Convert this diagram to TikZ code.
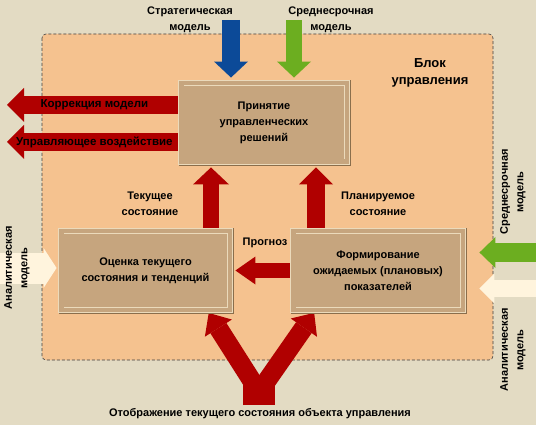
\documentclass[tikz,border=0pt]{standalone}
\usepackage{fontspec}
\setmainfont{Liberation Sans}
\usetikzlibrary{arrows.meta,positioning,backgrounds}
\definecolor{pagebg}{HTML}{E3DBC3}
\definecolor{peach}{HTML}{F5C28F}
\definecolor{boxtan}{HTML}{C6A57E}
\definecolor{boxlight}{HTML}{EBDABB}
\definecolor{boxdark}{HTML}{8A6E4C}
\definecolor{arrred}{HTML}{B00000}
\definecolor{stratblue}{HTML}{0C4A98}
\definecolor{midgreen}{HTML}{6CAE20}
\definecolor{anlcream}{HTML}{FFF4DD}
\newcommand{\lblfont}{\fontsize{11}{15.5}\selectfont\bfseries}
\newcommand{\boxfont}{\fontsize{11}{16}\selectfont\bfseries}
\pgfdeclarelayer{back}
\pgfsetlayers{back,background,main}
\tikzset{
  ctrlblk/.style ={fill=peach, draw=black!75, line width=0.6pt,
                   dash pattern=on 3pt off 2pt, rounded corners=4pt},
  pbox/.style    ={preaction={draw=boxdark, line width=7pt,
                   transform canvas={xshift=0.8pt, yshift=-0.8pt}},
                   draw=boxlight, line width=0.9pt, double=boxtan,
                   double distance=4.6pt, fill=boxtan, inner sep=2pt,
                   align=center, font=\boxfont, minimum height=78.6pt},
  lbl/.style     ={font=\lblfont, align=center, inner sep=0pt},
  titlelbl/.style={font=\fontsize{13}{17}\selectfont\bfseries,
                   align=center, inner sep=0pt},
  arrlbl/.style  ={font=\fontsize{11.5}{15}\selectfont\bfseries,
                   inner sep=0pt},
  % block arrow: colour / shaft / head width / head length
  fat/.style n args={4}{draw=#1, line width=#2,
                   -{Triangle[width=#3, length=#4, line width=0pt]}},
}
\begin{document}
\begin{tikzpicture}[x=1pt, y=-1pt]
\begin{pgfonlayer}{back}
\fill[pagebg] (0,0) rectangle (536,425);
\draw[ctrlblk] (42,34) rectangle (493,360);
\end{pgfonlayer}
\useasboundingbox (0,0) rectangle (536,425);

% blocks
\node[pbox, minimum width=165.6pt] (dec)  at (264,122.5)
  {Принятие\\управленческих\\решений};
\node[pbox, minimum width=168.6pt] (est)  at (145.5,270.5)
  {Оценка текущего\\состояния и тенденций};
\node[pbox, minimum width=169.6pt] (plan) at (378,270.5)
  {Формирование\\ожидаемых (плановых)\\показателей};

% texts
\node[lbl] (stratlbl) at (190,20) {Стратегическая\\модель};
\node[lbl] (midlbl)   at (331,20) {Среднесрочная\\модель};
\node[titlelbl] (blklbl) at (430,73) {Блок\\управления};
\node[lbl] (curlbl)  at (150,204) {Текущее\\состояние};
\node[lbl] (planlbl) at (378,204) {Планируемое\\состояние};
\node[lbl] (proglbl) at (265,243) {Прогноз};
\node[lbl] (objlbl)  at (260,414)
  {Отображение текущего состояния объекта управления};
\node[lbl, rotate=90] (anlL) at (17,268)  {Аналитическая\\модель};
\node[lbl, rotate=90] (midR) at (513,192) {Среднесрочная\\модель};
\node[lbl, rotate=90] (anlR) at (513,350) {Аналитическая\\модель};

\coordinate (stratin) at (231,20);
\coordinate (midin)   at (294,20);
\coordinate (corrout) at (7,105);
\coordinate (ctrlout) at (7,142);
\coordinate (anlin)   at (0,268);
\coordinate (midRin)  at (536,252.5);
\coordinate (anlRin)  at (536,288.5);
\coordinate (objsrc)  at (259,405);
\coordinate (fork)    at (259,383);

\begin{scope}[on background layer]
% model inputs
\draw[fat={stratblue}{18pt}{34pt}{16pt}, shorten >=5.2pt]
  (stratin) -- (stratin |- dec.north);
\draw[fat={midgreen}{16pt}{34pt}{16pt}, shorten >=5.2pt]
  (midin) -- (midin |- dec.north);
\draw[fat={anlcream}{31pt}{40pt}{13pt}, shorten >=4.2pt]
  (anlin) -- (anlin -| est.west);
\draw[fat={midgreen}{19pt}{31pt}{16pt}, shorten >=16.2pt]
  (midRin) -- (midRin -| plan.east);
\draw[fat={anlcream}{17pt}{30pt}{15pt}, shorten >=16.2pt]
  (anlRin) -- (anlRin -| plan.east);
% outputs
\draw[fat={arrred}{18pt}{34pt}{17pt}] (corrout -| dec.center) -- (corrout)
  node[arrlbl, pos=0.66] {Коррекция модели};
\draw[fat={arrred}{18pt}{34pt}{17pt}] (ctrlout -| dec.center) -- (ctrlout)
  node[arrlbl, pos=0.66] {Управляющее воздействие};
% inner flows
\draw[fat={arrred}{16pt}{36pt}{17pt}, shorten >=5.2pt]
  ([xshift=65.5pt]est.north) -- ([xshift=65.5pt]est.north |- dec.south);
\draw[fat={arrred}{18pt}{34pt}{17pt}, shorten >=5.2pt]
  ([xshift=-62pt]plan.north) -- ([xshift=-62pt]plan.north |- dec.south);
\draw[fat={arrred}{15pt}{28pt}{20pt}, shorten >=5.2pt]
  (plan.west) -- (est.east);
% object state
\draw[arrred, line width=32pt] (objsrc) -- (fork);
\draw[fat={arrred}{19pt}{32pt}{18pt}, shorten >=3.2pt]
  ([yshift=-9pt]fork) -- ([xshift=61.5pt]est.south);
\draw[fat={arrred}{19pt}{32pt}{18pt}, shorten >=3.2pt]
  ([yshift=-9pt]fork) -- ([xshift=-62pt]plan.south);
\end{scope}
\end{tikzpicture}
\end{document}
